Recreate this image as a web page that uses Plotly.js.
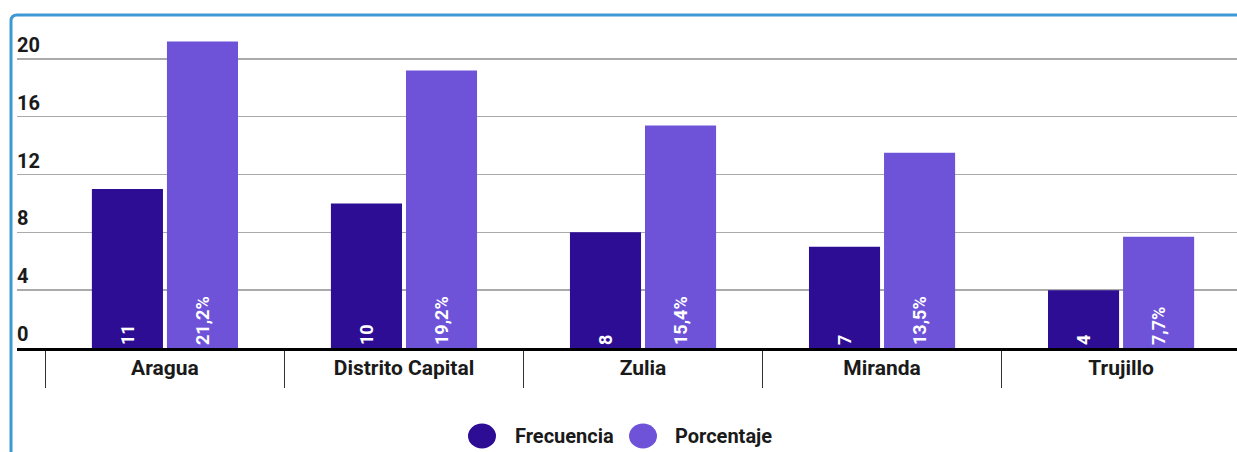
<!DOCTYPE html>
<html>
<head>
<meta charset="utf-8">
<script src="https://cdn.plot.ly/plotly-3.0.1.min.js"></script>
<style>html,body{margin:0;padding:0;background:#fff;}#chart{width:1237px;height:452px;}</style>
</head>
<body>
<div id="chart"></div>
<script>
const categories = ["Aragua", "Distrito Capital", "Zulia", "Miranda", "Trujillo"];
const seriesNames = ["Frecuencia", "Porcentaje"];
const frecuencia = [11, 10, 8, 7, 4];
const porcentaje = [21.2, 19.2, 15.4, 13.5, 7.7];
const yTicks = [0, 4, 8, 12, 16, 20];
const colors = ["#2c0d94", "#6e53d9"];

const W = 1237, H = 452;
const M = {l: 17, r: 0, t: 30, b: 104};
const plotW = W - M.l - M.r, plotH = H - M.t - M.b;

const catFont = {family: "Roboto, sans-serif", size: 21, color: "#1a1a1a", weight: "bold"};
const yFont = {family: "Roboto, sans-serif", size: 20, color: "#1a1a1a", weight: "bold"};
const legFont = {family: "Roboto, sans-serif", size: 20, color: "#1a1a1a", weight: "bold"};
const textFont = {family: "Roboto, sans-serif", size: 18, color: "#ffffff", weight: "bold"};

const traces = [
  {
    type: "bar", name: seriesNames[0], x: categories, y: frecuencia,
    text: frecuencia.map(String),
    textposition: "inside", insidetextanchor: "start", textangle: -90,
    insidetextfont: textFont,
    marker: {color: colors[0]}, showlegend: false, hoverinfo: "skip"
  },
  {
    type: "bar", name: seriesNames[1], x: categories, y: porcentaje,
    text: porcentaje.map(v => v.toFixed(1).replace(".", ",") + "%"),
    textposition: "inside", insidetextanchor: "start", textangle: -90,
    insidetextfont: textFont,
    marker: {color: colors[1]}, showlegend: false, hoverinfo: "skip"
  }
];

// custom legend (large circles)
const legendY = (M.t + plotH - 436) / plotH; // paper y of legend row
const legendItems = [
  {cx: 482 - M.l, tx: 513 - M.l},
  {cx: 643 - M.l, tx: 673 - M.l}
];
const shapes = [];
const annotations = [];
legendItems.forEach((it, i) => {
  shapes.push({
    type: "circle", xref: "paper", yref: "paper",
    xsizemode: "pixel", ysizemode: "pixel",
    xanchor: 0, yanchor: legendY,
    x0: it.cx - 14, x1: it.cx + 14, y0: -12.5, y1: 12.5,
    fillcolor: colors[i], line: {width: 0}
  });
  annotations.push({
    xref: "paper", yref: "paper", x: it.tx / plotW, y: legendY,
    xanchor: "left", yanchor: "middle", showarrow: false,
    text: seriesNames[i],
    font: legFont
  });
});

// outer rounded box border
const px2x = p => (p - M.l) / plotW;
const py2y = p => (M.t + plotH - p) / plotH;
const bx0 = px2x(11), bx1 = px2x(1260), byT = py2y(15), byB = py2y(480);
const rx = 6 / plotW, ry = 6 / plotH;
shapes.push({
  type: "path", xref: "paper", yref: "paper", layer: "below",
  path: `M ${bx0},${byB} L ${bx0},${byT - ry} Q ${bx0},${byT} ${bx0 + rx},${byT} L ${bx1},${byT}`,
  line: {color: "#3d98d4", width: 3}
});

const layout = {
  width: W, height: H,
  margin: M,
  paper_bgcolor: "#ffffff", plot_bgcolor: "#ffffff",
  barmode: "group", bargap: 0.372, bargroupgap: 0.053,
  font: {family: "Roboto, sans-serif", color: "#1a1a1a"},
  xaxis: {
    type: "category",
    range: [-0.619, 4.485],
    tickson: "boundaries", ticks: "outside", ticklen: 37, tickwidth: 1.5, tickcolor: "#333333",
    ticklabelstandoff: -1,
    tickfont: catFont,
    showline: true, linecolor: "#000000", linewidth: 3,
    showgrid: false, zeroline: false, fixedrange: true
  },
  yaxis: {
    range: [0, 22],
    tickvals: yTicks, ticktext: yTicks.map(String),
    ticklabelposition: "inside top", ticks: "",
    ticklabelstandoff: -3,
    tickfont: yFont,
    showgrid: true, gridcolor: "#aaaaaa", gridwidth: 1.5,
    zeroline: false, showline: false, fixedrange: true
  },
  showlegend: false,
  shapes: shapes,
  annotations: annotations
};

Plotly.newPlot("chart", traces, layout, {displayModeBar: false, staticPlot: true});
</script>
</body>
</html>
